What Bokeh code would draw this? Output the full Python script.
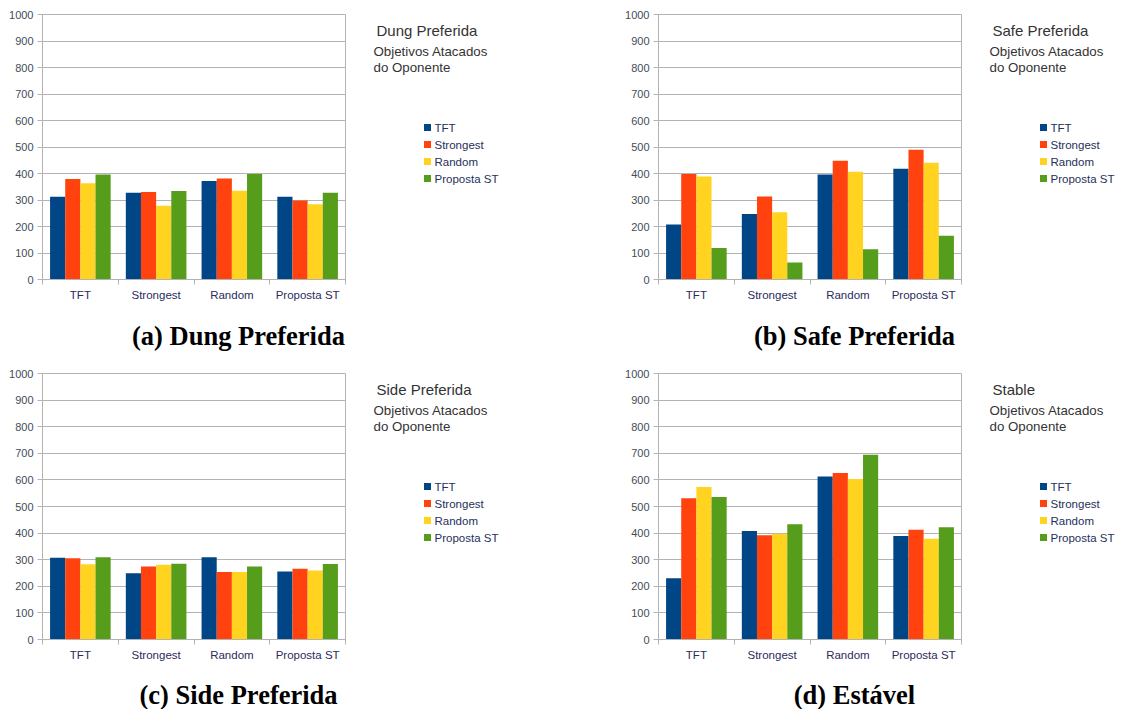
import numpy as np
from bokeh.plotting import figure
from bokeh.models import ColumnDataSource, FixedTicker, Range1d, Label
from bokeh.transform import dodge
from bokeh.layouts import row, column
from bokeh.embed import file_html
from bokeh.resources import INLINE

categories = ["TFT", "Strongest", "Random", "Proposta ST"]
series = ["TFT", "Strongest", "Random", "Proposta ST"]
colors = ["#004586", "#ff420e", "#ffd320", "#579d1c"]
y_ticks = [0, 100, 200, 300, 400, 500, 600, 700, 800, 900, 1000]

# values per category (TFT, Strongest, Random, Proposta ST) for each series
dung_tft = [312, 327, 372, 312]
dung_strongest = [379, 330, 381, 298]
dung_random = [363, 278, 335, 284]
dung_proposta = [396, 334, 398, 327]

safe_tft = [208, 247, 396, 418]
safe_strongest = [398, 313, 448, 490]
safe_random = [389, 254, 407, 441]
safe_proposta = [119, 64, 114, 165]

side_tft = [307, 249, 309, 256]
side_strongest = [305, 274, 254, 266]
side_random = [283, 281, 254, 259]
side_proposta = [309, 285, 274, 284]

stable_tft = [230, 408, 613, 389]
stable_strongest = [531, 392, 626, 413]
stable_random = [573, 398, 603, 379]
stable_proposta = [536, 433, 695, 422]

titles = ["Dung Preferida", "Safe Preferida", "Side Preferida", "Stable"]
subtitle_1 = "Objetivos Atacados"
subtitle_2 = "do Oponente"
captions = ["(a) Dung Preferida", "(b) Safe Preferida", "(c) Side Preferida", "(d) Estável"]

panels = [
    [dung_tft, dung_strongest, dung_random, dung_proposta],
    [safe_tft, safe_strongest, safe_random, safe_proposta],
    [side_tft, side_strongest, side_random, side_proposta],
    [stable_tft, stable_strongest, stable_random, stable_proposta],
]

FONT = "Liberation Sans"
GRID = "#b3b3b3"
CHART_W = 360


def blank_fig(width, height, y0=0, y1=None, top=0, bottom=0):
    if y1 is None:
        y1 = height
    f = figure(width=width, height=height, output_backend="svg", toolbar_location=None,
               x_range=Range1d(0, width), y_range=Range1d(y1, y0),
               x_axis_type=None, y_axis_type=None,
               min_border=0, min_border_left=0, min_border_right=0,
               min_border_top=top, min_border_bottom=bottom)
    f.grid.visible = False
    f.outline_line_color = None
    f.background_fill_color = "white"
    f.border_fill_color = "white"
    return f


def make_chart(idx, top, height, frame_h):
    vals = panels[idx]
    centers = list(np.arange(len(categories)) + 0.5)
    data = {"x": centers}
    for s, v in zip(series, vals):
        data[s] = v
    src = ColumnDataSource(data)
    p = figure(width=CHART_W, height=height, output_backend="svg", toolbar_location=None,
               x_range=Range1d(0, len(categories)), y_range=Range1d(0, 1000),
               min_border_left=42, min_border_right=CHART_W - 42 - 303,
               min_border_top=top, min_border_bottom=height - top - frame_h)
    p.outline_line_color = GRID
    p.background_fill_color = "white"
    p.border_fill_color = "white"

    offsets = [-0.3, -0.1, 0.1, 0.3]
    for s, c, o in zip(series, colors, offsets):
        p.vbar(x=dodge("x", o), top=s, width=0.2, source=src, fill_color=c, line_color=None)

    p.xaxis.ticker = FixedTicker(ticks=centers, minor_ticks=list(range(len(categories) + 1)))
    p.xaxis.major_label_overrides = {c: cat for c, cat in zip(centers, categories)}
    p.xaxis.major_tick_out = 0
    p.xaxis.major_tick_in = 0
    p.xaxis.minor_tick_out = 5
    p.xaxis.minor_tick_in = 0
    p.xaxis.minor_tick_line_color = GRID
    p.xaxis.axis_line_color = GRID
    p.xaxis.major_label_text_font = FONT
    p.xaxis.major_label_text_font_size = "11.5px"
    p.xaxis.major_label_text_color = "#2b2b5c"
    p.xaxis.major_label_standoff = 4

    p.yaxis.ticker = FixedTicker(ticks=y_ticks)
    p.yaxis.minor_tick_line_color = None
    p.yaxis.major_tick_out = 5
    p.yaxis.major_tick_in = 0
    p.yaxis.major_tick_line_color = GRID
    p.yaxis.axis_line_color = GRID
    p.yaxis.major_label_text_font = FONT
    p.yaxis.major_label_text_font_size = "11px"
    p.yaxis.major_label_text_color = "#434c57"
    p.yaxis.major_label_standoff = 4

    p.xgrid.grid_line_color = None
    p.ygrid.grid_line_color = GRID
    p.ygrid.ticker = FixedTicker(ticks=y_ticks)
    return p


def make_side(idx, width, height, top, frame_h):
    # frame mirrors the chart frame; data y = pixel y from the panel's top
    f = blank_fig(width, height, y0=top, y1=top + frame_h, top=top,
                  bottom=height - top - frame_h)
    ys = top + 113 + 17 * np.arange(len(series))
    leg = ColumnDataSource(dict(y=ys, label=series, color=colors))
    f.scatter(x=67, y="y", marker="square", size=7, fill_color="color", line_color=None, source=leg)
    f.text(x=74, y="y", text="label", source=leg, text_font_size="11.5px",
           text_color="#26305a", text_baseline="middle", text_align="left",
           text_font={"value": FONT})
    f.add_layout(Label(x=16, y=top + 16, text=titles[idx],
                       text_font=FONT, text_font_size="15px", text_color="#333333",
                       text_baseline="middle", text_align="left"))
    f.add_layout(Label(x=13, y=top + 37, text=subtitle_1,
                       text_font=FONT, text_font_size="13.3px", text_color="#333333",
                       text_baseline="middle", text_align="left"))
    f.add_layout(Label(x=13, y=top + 53, text=subtitle_2,
                       text_font=FONT, text_font_size="13.3px", text_color="#333333",
                       text_baseline="middle", text_align="left"))
    return f


def make_caption(idx, width, height, cy):
    f = blank_fig(width, height)
    f.add_layout(Label(x=238, y=cy, text=captions[idx],
                       text_font="Liberation Serif", text_font_size="26.5px", text_font_style="bold",
                       text_color="#000000", text_baseline="middle", text_align="center"))
    return f


def make_panel(idx, total_w, top, frame_h, chart_h, cap_h, cap_y):
    chart = make_chart(idx, top, chart_h, frame_h)
    side = make_side(idx, total_w - CHART_W, chart_h, top, frame_h)
    cap = make_caption(idx, total_w, cap_h, cap_y)
    return column(row(chart, side), cap)


pa = make_panel(0, 616, 14, 265, 310, 45, 25)
pb = make_panel(1, 505, 14, 265, 310, 45, 25)
pc = make_panel(2, 616, 18, 266, 315, 39, 24)
pd = make_panel(3, 505, 18, 266, 315, 39, 24)

layout = column(row(pa, pb), row(pc, pd))
open("out.html", "w").write(file_html(layout, INLINE))
